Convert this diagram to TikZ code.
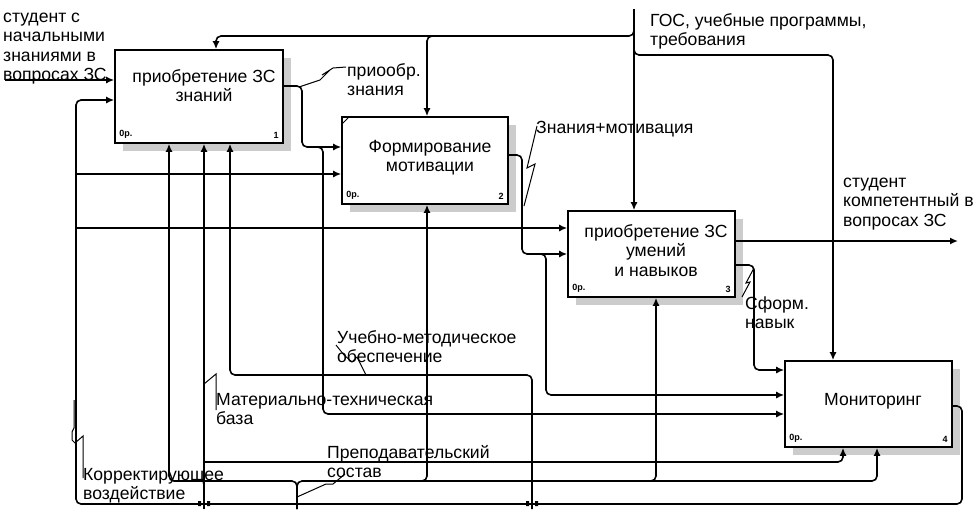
\documentclass[tikz,border=0pt]{standalone}
\usepackage{fontspec}
\setmainfont{Liberation Sans}
\usetikzlibrary{arrows.meta,shadows}

\newcommand{\lblfont}{\fontsize{17.6}{19.5}\selectfont}
\newcommand{\tagfont}{\fontsize{9}{10}\selectfont\bfseries}

\tikzset{
  func/.style={draw, line width=1.6pt, fill=white, inner sep=0pt,
    drop shadow={shadow xshift=8pt, shadow yshift=-8pt, fill=gray!40, opacity=1}},
  ftext/.style={font=\lblfont, align=center, inner sep=0pt, anchor=north},
  lbl/.style={font=\lblfont, align=left, anchor=north west, inner sep=0pt},
  tag/.style={font=\tagfont, inner sep=0pt},
  arr/.style={line width=1.6pt, rounded corners=5pt},
  squig/.style={line width=1pt},
  >={Latex[length=8pt,width=7pt]}
}

\begin{document}
\begin{tikzpicture}[x=1pt,y=-1pt]
\useasboundingbox (0,0) rectangle (976,509);

% functions
\node[func, minimum width=168pt, minimum height=93pt] (b1) at (199,96.5) {};
\node[func, minimum width=166pt, minimum height=87pt] (b2) at (425,160.5) {};
\node[func, minimum width=167pt, minimum height=86pt] (b3) at (651.5,254) {};
\node[func, minimum width=167pt, minimum height=86pt] (b4) at (868.5,404) {};

\node[ftext] (t1) at (204,68.4) {\strut приобретение ЗС\\знаний};
\node[ftext] (t2) at (430,138.4) {\strut Формирование\\мотивации};
\node[ftext] (t3) at (656,223.4) {\strut приобретение ЗС\\умений\\и навыков};
\node[ftext] (t4) at (873,391.4) {\strut Мониторинг};

\node[tag, anchor=south west] (c1) at ([shift={(5pt,5pt)}]b1.south west) {0р.};
\node[tag, anchor=south east] (n1) at ([shift={(-5pt,5pt)}]b1.south east) {1};
\node[tag, anchor=south west] (c2) at ([shift={(5pt,5pt)}]b2.south west) {0р.};
\node[tag, anchor=south east] (n2) at ([shift={(-5pt,5pt)}]b2.south east) {2};
\node[tag, anchor=south west] (c3) at ([shift={(5pt,5pt)}]b3.south west) {0р.};
\node[tag, anchor=south east] (n3) at ([shift={(-5pt,5pt)}]b3.south east) {3};
\node[tag, anchor=south west] (c4) at ([shift={(5pt,5pt)}]b4.south west) {0р.};
\node[tag, anchor=south east] (n4) at ([shift={(-5pt,5pt)}]b4.south east) {4};
\draw[squig] (342,124) -- (348,118);

% labels
\node[lbl] (lstud) at (3,8.5) {\strut студент с\\начальными\\знаниями в\\вопросах ЗС};
\node[lbl] (lgos) at (650,12.4) {\strut ГОС, учебные программы,\\требования};
\node[lbl] (lzn) at (347,62.4) {\strut приообр.\\знания};
\node[lbl] (lmot) at (536,119.4) {\strut Знания+мотивация};
\node[lbl] (lcomp) at (843,173.4) {\strut студент\\компетентный в\\вопросах ЗС};
\node[lbl] (lnav) at (745,295.4) {\strut Сформ.\\навык};
\node[lbl] (lump) at (337,329.4) {\strut Учебно-методическое\\обеспечение};
\node[lbl] (lmtb) at (216,391.4) {\strut Материально-техническая\\база};
\node[lbl] (lstaff) at (327,444.4) {\strut Преподавательский\\состав};
\node[lbl] (lcorr) at (83,466.4) {\strut Корректирующее\\воздействие};

% free ends
\coordinate (in) at (5,80);
\coordinate (gos) at (634,9);
\coordinate (out) at (958,241);
\coordinate (staff) at (297,509);
\coordinate (mtb) at (204,509);
\coordinate (ump) at (532,509);

% inputs and controls
\draw[arr,->] (in) -- (in -| b1.west);
\draw[arr,->] (gos) -- (gos |- b3.north);
\draw[arr,->] (634,28) -- (634,36) -- (216,36) -- (216,36 |- b1.north);
\draw[arr,->] (433,36) -- (427,36) -- (427,36 |- b2.north);
\draw[arr,->] (634,45) -- (634,55) -- (833,55) -- (833,55 |- b4.north);

% outputs
\draw[arr,->] (b1.east |- 0,86) -- (302,86) -- (302,147) -- (302,147 -| b2.west);
\draw[arr,->] (316,147) -- (323,147) -- (323,414) -- (323,414 -| b4.west);
\draw[arr,->] (b2.east |- 0,155) -- (522,155) -- (522,254) -- (522,254 -| b3.west);
\draw[arr,->] (540,254) -- (546,254) -- (546,395) -- (546,395 -| b4.west);
\draw[arr,->] (b3.east |- 0,241) -- (out);
\draw[arr,->] (b3.east |- 0,265) -- (754,265) -- (754,370) -- (754,370 -| b4.west);

% feedback
\draw[arr,->] (b4.east |- 0,406) -- (962,406) -- (962,504) -- (76,504) -- (76,100) -- (76,100 -| b1.west);
\draw[arr,->] (76,174) -- (76,174 -| b2.west);
\draw[arr,->] (76,228) -- (76,228 -| b3.west);

% mechanisms
\draw[arr,->] (staff) -- (297,481) -- (169,481) -- (169,481 |- b1.south);
\draw[arr,->] (staff) -- (297,481) -- (877,481) -- (877,481 |- b4.south);
\draw[arr,->] (420,481) -- (427,481) -- (427,481 |- b2.south);
\draw[arr,->] (650,481) -- (656,481) -- (656,481 |- b3.south);
\draw[arr,->] (mtb) -- (mtb |- b1.south);
\draw[arr,->] (204,462) -- (843,462) -- (843,462 |- b4.south);
\draw[arr,->] (ump) -- (532,375) -- (230,375) -- (230,375 |- b1.south);
\fill (198,501) rectangle (201,506) (207,501) rectangle (210,506);
\fill (526,501) rectangle (529,506) (535,501) rectangle (538,506);

% label leaders
\draw[squig] (299,87) -- (320,80) -- (330,70) -- (322,75) -- (333,68) -- (346,67);
\draw[squig] (537,126) -- (527,168) -- (535,164) -- (524,206);
\draw[squig] (754,268) -- (746,283) -- (750,282) -- (742,297);
\draw[squig] (336,345) -- (344,355) -- (352,362) -- (357,357) -- (366,375);
\draw[squig] (204,384) -- (216,374) -- (216,410);
\draw[squig] (297,497) -- (326,484) -- (333,484) -- (345,474);
\draw[squig] (74,400) -- (74,428) -- (72,432) -- (72,440) -- (75,443) -- (83,436) -- (83,478);

\end{tikzpicture}
\end{document}
